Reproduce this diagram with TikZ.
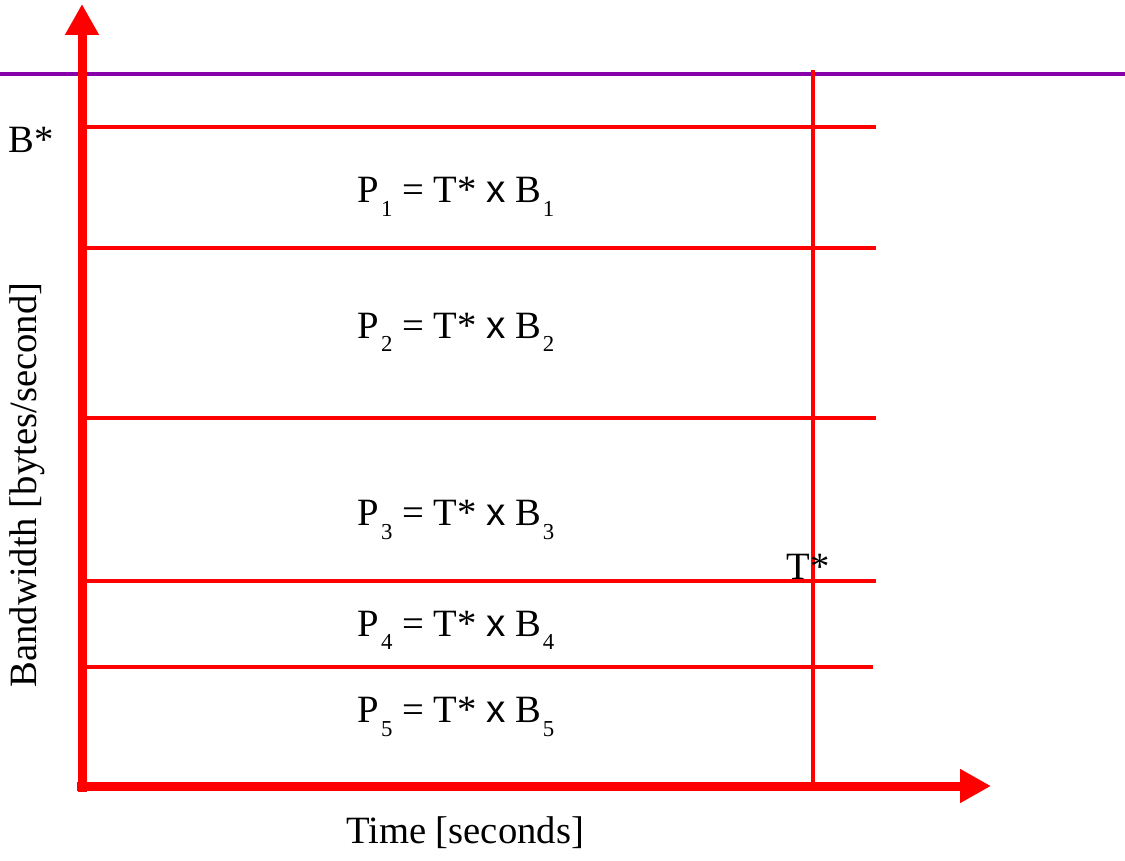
\documentclass[tikz,border=0pt]{standalone}
\usepackage{fontspec}
\setmainfont{Liberation Serif}
\setsansfont{Liberation Sans}
\usetikzlibrary{arrows.meta}
\definecolor{bwpurple}{RGB}{136,0,170}
\newcommand{\bwsub}[1]{\hspace{1pt}\raisebox{-0.75ex}{\fontsize{13}{13}\selectfont #1}}
\newcommand{\bwprod}[1]{P\bwsub{#1} = T* {\sffamily x} B\bwsub{#1}}

\begin{document}
\begin{tikzpicture}[x=0.02cm,y=-0.02cm,
  txt/.style={font=\fontsize{22}{24}\selectfont,inner sep=0pt},
  thin line/.style={line width=0.08cm},
  axis/.style={red,line width=0.18cm,-{Triangle[length=0.62cm,width=0.64cm]}}]
\useasboundingbox (0,0) rectangle (1125,861);
\coordinate (O) at (82,792); \coordinate (Y) at (82,4);
\coordinate (O2) at (77,786); \coordinate (X) at (991,786);
\coordinate (Tt) at (813,70); \coordinate (Tb) at (813,786);
\draw[bwpurple,thin line] (0,74) -- (1125,74);
\foreach \y/\e in {127/876,248/876,418/876,581/876,667/873} \draw[red,thin line] (86,\y) -- (\e,\y);
\draw[red,thin line] (Tt) -- (Tb);
\draw[axis] (O) -- (Y); \draw[axis] (O2) -- (X);
\foreach \i/\y in {1/197,2/332,3/520,4/630,5/717} \node[txt] (p\i) at (456,\y) {\bwprod{\i}};
\node[txt] (bs) at (31,140) {B*}; \node[txt] (ts) at (808,567) {T*};
\node[txt,rotate=90] (bw) at (27,485) {Bandwidth [bytes/second]};
\node[txt] (tm) at (465,833) {Time [seconds]};
\end{tikzpicture}
\end{document}
